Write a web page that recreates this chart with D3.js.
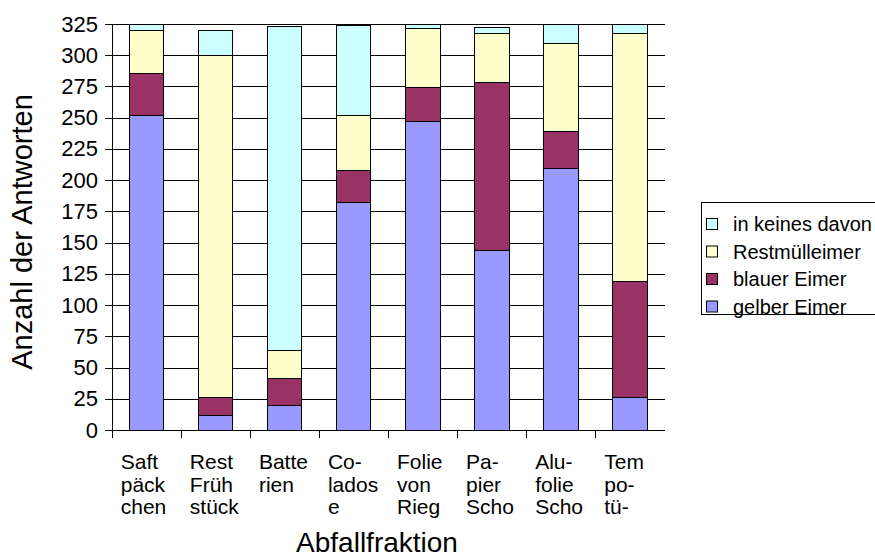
<!DOCTYPE html>
<html>
<head>
<meta charset="utf-8">
<script src="https://cdn.jsdelivr.net/npm/d3@7"></script>
<style>
    body { margin: 0; background: #fff; }
    svg { font-family: "Liberation Sans", Arial, sans-serif; }
</style>
</head>
<body>
<div id="chart"></div>
<script>
    // categories (x labels already broken into lines like in the original)
    let categories = ["Saftpäckchen", "Rest Frühstück", "Batterien", "Colados", "Folie von Rieg", "Papier Scho", "Alufolie Scho", "Tempotü"];
    let labelLines = [
        ["Saft", "päck", "chen"],
        ["Rest", "Früh", "stück"],
        ["Batte", "rien"],
        ["Co-", "lados", "e"],
        ["Folie", "von", "Rieg"],
        ["Pa-", "pier", "Scho"],
        ["Alu-", "folie", "Scho"],
        ["Tem", "po-", "tü-"]
    ];

    // series values, bottom to top
    let gelberEimer = [252, 12, 20, 182, 247, 144, 209, 26];
    let blauerEimer = [33, 14, 21, 26, 27, 134, 30, 93];
    let restmuell = [35, 274, 23, 44, 47, 39, 70, 198];
    let keines = [5, 20, 259, 72, 4, 5, 16, 8];

    let seriesNames = ["gelber Eimer", "blauer Eimer", "Restmülleimer", "in keines davon"];
    let seriesColors = ["#9999ff", "#993366", "#ffffcc", "#ccffff"];
    let yTicks = d3.range(0, 326, 25);

    let data = categories.map((c, i) => ({
        cat: c,
        "gelber Eimer": gelberEimer[i],
        "blauer Eimer": blauerEimer[i],
        "Restmülleimer": restmuell[i],
        "in keines davon": keines[i]
    }));

    let W = 875, H = 558;
    let margin = { top: 24, left: 112, right: 210, bottom: 128 };
    let plotRight = 664.5;

    let svg = d3.select("#chart")
        .append("svg")
        .attr("width", W)
        .attr("height", H);

    let x = d3.scaleBand()
        .domain(categories)
        .range([margin.left, plotRight])
        .paddingInner(0.5)
        .paddingOuter(0.25);

    let y = d3.scaleLinear()
        .domain([0, 325])
        .range([H - margin.bottom, margin.top]);

    // horizontal grid
    svg.append("g")
        .attr("class", "grid")
        .attr("transform", `translate(${margin.left}, 0)`)
        .call(d3.axisRight(y).tickValues(yTicks).tickSize(plotRight - margin.left).tickFormat(""))
        .call(g => g.select(".domain").remove())
        .call(g => g.selectAll("line").attr("stroke", "#000").attr("shape-rendering", "crispEdges"));

    // stacked bars
    let stack = d3.stack().keys(seriesNames)(data);

    svg.append("g")
        .selectAll("g")
        .data(stack)
        .join("g")
        .attr("fill", (d, i) => seriesColors[i])
        .selectAll("rect")
        .data(d => d)
        .join("rect")
        .attr("x", d => x(d.data.cat))
        .attr("y", d => y(d[1]))
        .attr("width", x.bandwidth())
        .attr("height", d => y(d[0]) - y(d[1]))
        .attr("stroke", "#000")
        .attr("stroke-width", 1)
        .attr("shape-rendering", "crispEdges");

    // y axis
    let yAxis = svg.append("g")
        .attr("transform", `translate(${margin.left}, 0)`)
        .call(d3.axisLeft(y).tickValues(yTicks).tickSize(7).tickPadding(7).tickSizeOuter(0));
    yAxis.selectAll("text").style("font-size", "22px").attr("fill", "#000");
    yAxis.selectAll("line, path").attr("stroke", "#000").attr("shape-rendering", "crispEdges");

    // x axis: ticks at band boundaries
    let xAxis = svg.append("g")
        .attr("transform", `translate(0, ${y(0)})`);
    xAxis.append("line")
        .attr("x1", margin.left).attr("x2", plotRight)
        .attr("stroke", "#000").attr("shape-rendering", "crispEdges");
    let step = x.step();
    xAxis.selectAll(".tick")
        .data(categories)
        .join("line")
        .attr("class", "tick")
        .attr("x1", d => x(d) - step * 0.25)
        .attr("x2", d => x(d) - step * 0.25)
        .attr("y1", 0).attr("y2", 8)
        .attr("stroke", "#000").attr("shape-rendering", "crispEdges");

    // x labels, left aligned a bit before the bar
    let labels = svg.append("g")
        .selectAll("text")
        .data(categories)
        .join("text")
        .attr("x", d => x(d) - 8.5)
        .attr("y", 469)
        .style("font-size", "21px")
        .attr("fill", "#000");
    labels.selectAll("tspan")
        .data((d, i) => labelLines[i])
        .join("tspan")
        .attr("x", function () { return d3.select(this.parentNode).attr("x"); })
        .attr("dy", (d, i) => i === 0 ? 0 : 22.5)
        .text(d => d);

    // axis titles
    svg.append("text")
        .attr("x", 377)
        .attr("y", 552)
        .attr("text-anchor", "middle")
        .style("font-size", "28px")
        .text("Abfallfraktion");

    svg.append("text")
        .attr("transform", `translate(32, 232) rotate(-90)`)
        .attr("text-anchor", "middle")
        .style("font-size", "29px")
        .text("Anzahl der Antworten");

    // legend
    let legend = svg.append("g");
    legend.append("rect")
        .attr("x", 701.5).attr("y", 202.5)
        .attr("width", 185).attr("height", 112)
        .attr("fill", "#fff").attr("stroke", "#000");

    let legendOrder = [3, 2, 1, 0];
    let items = legend.selectAll(".item")
        .data(legendOrder)
        .join("g")
        .attr("class", "item")
        .attr("transform", (d, i) => `translate(706, ${224 + i * 27.5})`);
    items.append("rect")
        .attr("x", 0.5).attr("y", -5.5)
        .attr("width", 11).attr("height", 11)
        .attr("fill", d => seriesColors[d])
        .attr("stroke", "#000");
    items.append("text")
        .attr("x", 27)
        .attr("dy", "0.35em")
        .style("font-size", "20px")
        .text(d => seriesNames[d]);
</script>
</body>
</html>
